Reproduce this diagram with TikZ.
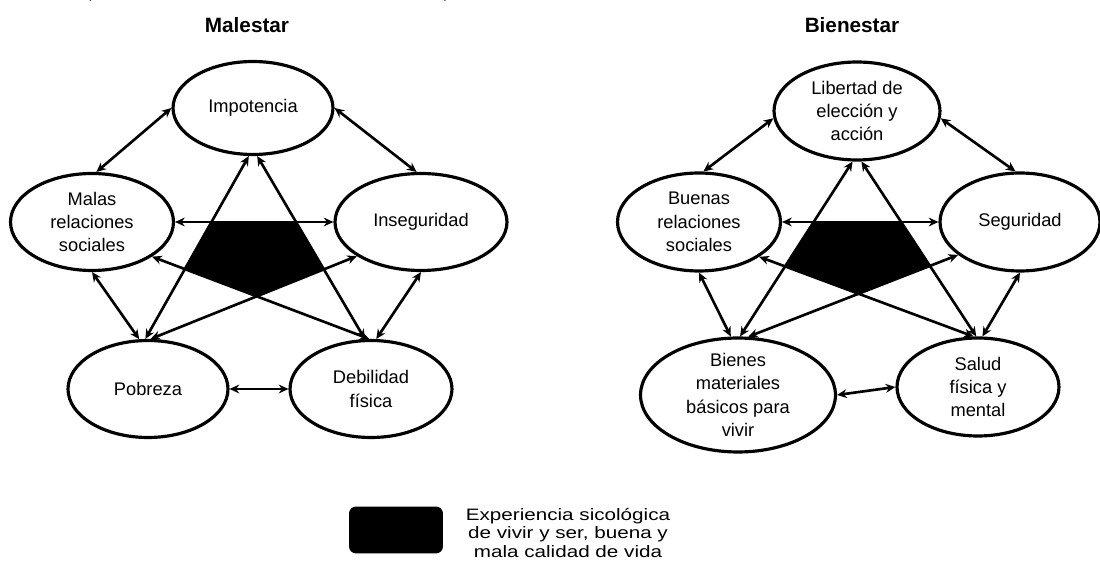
\documentclass[tikz,border=0pt]{standalone}
\usepackage{fontspec}
\setmainfont{Liberation Sans}
\newfontfamily\legendfont{Liberation Sans}[FakeStretch=1.25]
\usetikzlibrary{shapes.geometric,arrows.meta,calc}

\begin{document}
\begin{tikzpicture}[x=0.02cm,y=-0.02cm,
  ell/.style={ellipse, draw, line width=1.8pt, inner sep=0pt},
  lbl/.style={align=center, inner sep=0pt, font=\fontsize{10.4}{13.3}\selectfont},
  link/.style={line width=1.5pt,
    {Stealth[length=5.5pt,width=5pt]}-{Stealth[length=5.5pt,width=5pt]}},
  ttl/.style={font=\fontsize{11.8}{14}\selectfont\bfseries, inner sep=0pt},
  core/.style={fill=black}]

\useasboundingbox (0,0) rectangle (1100,567);

% caption line, trimmed by the top edge
\begin{scope}
  \clip (0,0) rectangle (1100,567);
  \node[anchor=base west, inner sep=0pt, font=\fontsize{10}{12}\selectfont\itshape]
    (cap) at (-32,-2) {Figura 3. Percepción del bienestar humano en comunidades pobres};
\end{scope}

% ---------------- Malestar ----------------
\node[ttl] (t1) at (247,25) {Malestar};

\node[ell, minimum width=3.2cm,  minimum height=1.86cm] (imp) at (253,108) {};
\node[ell, minimum width=3.26cm, minimum height=1.94cm] (mal) at (92,222) {};
\node[ell, minimum width=3.44cm, minimum height=1.94cm] (ins) at (421,222) {};
\node[ell, minimum width=3.2cm,  minimum height=1.94cm] (pob) at (148,389) {};
\node[ell, minimum width=3.24cm, minimum height=1.94cm] (deb) at (371,389) {};

\node[lbl] (imp-t) at (imp) {Impotencia};
\node[lbl] (mal-t) at (mal) {Malas\\relaciones\\sociales};
\node[lbl] (ins-t) at (ins) {Inseguridad};
\node[lbl] (pob-t) at (pob) {Pobreza};
\node[lbl] (deb-t) at (deb) {Debilidad\\física};

% shared experience in the middle of the star
\fill[core]
  (intersection of imp.265--pob.93 and mal.east--ins.west) --
  (intersection of imp.275--deb.97 and mal.east--ins.west) --
  (intersection of imp.275--deb.97 and ins.-152--pob.87) --
  (intersection of mal.-30--deb.92 and ins.-152--pob.87) --
  (intersection of imp.265--pob.93 and mal.-30--deb.92) -- cycle;

\draw[link] (imp.west) -- (mal.85);
\draw[link] (imp.east) -- (ins.95);
\draw[link] (mal.east) -- (ins.west);
\draw[link] (mal.south) -- (pob.100);
\draw[link] (ins.south) -- (deb.84);
\draw[link] (pob.east) -- (deb.west);
\draw[link] (imp.265) -- (pob.93);
\draw[link] (imp.275) -- (deb.97);
\draw[link] (mal.-30) -- (deb.92);
\draw[link] (ins.-152) -- (pob.87);

% ---------------- Bienestar ----------------
\node[ttl] (t2) at (852,25) {Bienestar};

\node[ell, minimum width=3.32cm, minimum height=1.96cm] (lib) at (857,111) {};
\node[ell, minimum width=3.26cm, minimum height=1.96cm] (bue) at (699,222) {};
\node[ell, minimum width=3.2cm,  minimum height=1.96cm] (seg) at (1020,222) {};
\node[ell, minimum width=3.9cm,  minimum height=2.28cm] (bie) at (738,395) {};
\node[ell, minimum width=3.24cm, minimum height=1.96cm] (sal) at (978,387) {};

\node[lbl] (lib-t) at (lib) {Libertad de\\elección y\\acción};
\node[lbl] (bue-t) at (bue) {Buenas\\relaciones\\sociales};
\node[lbl] (seg-t) at (seg) {Seguridad};
\node[lbl] (bie-t) at (bie) {Bienes\\materiales\\básicos para\\vivir};
\node[lbl] (sal-t) at (sal) {Salud\\física y\\mental};

\fill[core]
  (intersection of lib.265--bie.88 and bue.east--seg.west) --
  (intersection of lib.275--sal.92 and bue.east--seg.west) --
  (intersection of lib.275--sal.92 and seg.-152--bie.80) --
  (intersection of bue.-30--sal.95 and seg.-152--bie.80) --
  (intersection of lib.265--bie.88 and bue.-30--sal.95) -- cycle;

\draw[link] (lib.185) -- (bue.85);
\draw[link] (lib.-5) -- (seg.95);
\draw[link] (bue.east) -- (seg.west);
\draw[link] (bue.south) -- (bie.97);
\draw[link] (seg.south) -- (sal.85);
\draw[link] (bie.east) -- (sal.west);
\draw[link] (lib.265) -- (bie.88);
\draw[link] (lib.275) -- (sal.92);
\draw[link] (bue.-30) -- (sal.95);
\draw[link] (seg.-152) -- (bie.80);

% ---------------- legend ----------------
\node[fill=black, rounded corners=4pt, minimum width=1.88cm, minimum height=0.94cm,
      inner sep=0pt] (key) at (396,530) {};
\node[align=center, inner sep=0pt, font=\legendfont\fontsize{9.4}{10.4}\selectfont]
  (key-t) at (568,533) {Experiencia sicológica\\de vivir y ser, buena y\\mala calidad de vida};

\end{tikzpicture}
\end{document}
